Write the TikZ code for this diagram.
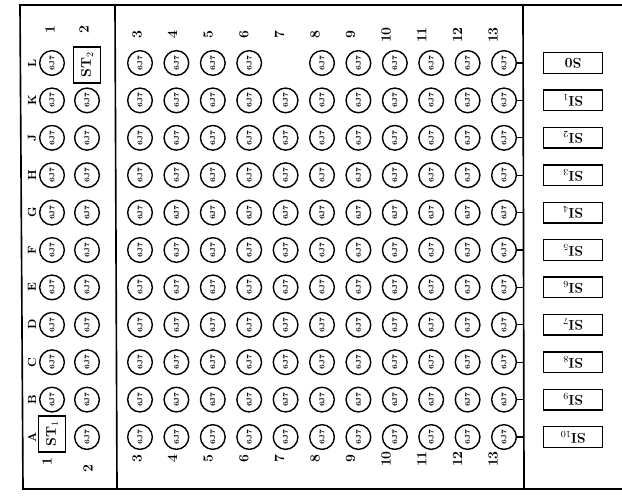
\documentclass[tikz,border=0pt]{standalone}
\begin{document}
\begin{tikzpicture}[x=0.03cm,y=-0.03cm,
  tube/.style={circle,draw,line width=1.2pt,minimum size=0.74cm,inner sep=0pt,font=\fontsize{6}{6}\selectfont\bfseries},
  stbox/.style={draw,line width=1.2pt,minimum width=0.8cm,minimum height=1.08cm,inner sep=0pt,font=\large\bfseries},
  sibox/.style={draw,line width=1.2pt,minimum width=1.76cm,minimum height=0.62cm,inner sep=0pt,font=\large\bfseries},
  lab/.style={font=\large\bfseries,rotate=90,inner sep=1pt}]
\useasboundingbox (0,0) rectangle (622,498);
% frame and dividers
\coordinate (fTL) at (20,5);
\coordinate (fBL) at (23,489);
\coordinate (fTR) at (622,5);
\coordinate (fBR) at (622,489);
\coordinate (dAtop) at (115,5);
\coordinate (dAbot) at (117,489);
\coordinate (dBtop) at (523,5);
\coordinate (dBbot) at (524,489);
\draw[line width=1.4pt] (fTR)--(fTL)--(fBL)--(fBR);
\draw[line width=1.4pt] (dAtop)--(dAbot);
\draw[line width=1.4pt] (dBtop)--(dBbot);
% tubes
\foreach \r in {1,...,11}{
  \foreach \c in {1,...,13}{
    \pgfmathsetmacro{\cx}{\c<3 ? 52+35*(\c-1) : 140+36.4*(\c-3)}
    \pgfmathsetmacro{\cy}{63+37.4*(\r-1)}
    \pgfmathtruncatemacro{\gap}{(\r==1 && (\c==2 || \c==7)) || (\r==11 && \c==1)}
    \ifnum\gap=0
      \node[tube] (t-\r-\c) at (\cx,\cy) {\rotatebox{90}{6J7}};
    \fi
  }
  \draw[line width=1pt] (t-\r-13.east) -- (t-\r-13.east -| dBtop);
}
\node[stbox] (st2) at (87,65) {\rotatebox{90}{ST$_2$}};
\node[stbox] (st1) at (52,434) {\rotatebox{90}{ST$_1$}};
% row letters
\foreach \l [count=\r] in {L,K,J,H,G,F,E,D,C,B,A}{
  \pgfmathsetmacro{\cy}{63+37.4*(\r-1)}
  \node[lab,font=\bfseries] (row-\r) at (32,\cy) {\l};
}
% column numbers
\node[lab] (top-1) at (50,30) {1};
\node[lab] (top-2) at (84,30) {2};
\node[lab] (bot-1) at (47,462) {1};
\node[lab] (bot-2) at (88,469) {2};
\foreach \c in {3,...,13}{
  \pgfmathsetmacro{\cx}{137+35.6*(\c-3)}
  \node[lab] (top-\c) at (\cx,35) {\c};
  \node[lab] (bot-\c) at (\cx,459) {\c};
}
% switch boxes
\foreach \s [count=\r] in {S0,SI$_1$,SI$_2$,SI$_3$,SI$_4$,SI$_5$,SI$_6$,SI$_7$,SI$_8$,SI$_9$,SI$_{10}$}{
  \pgfmathsetmacro{\cy}{63+37.4*(\r-1)}
  \node[sibox] (si-\r) at (573,\cy) {\rotatebox{180}{\s}};
}
\end{tikzpicture}
\end{document}
